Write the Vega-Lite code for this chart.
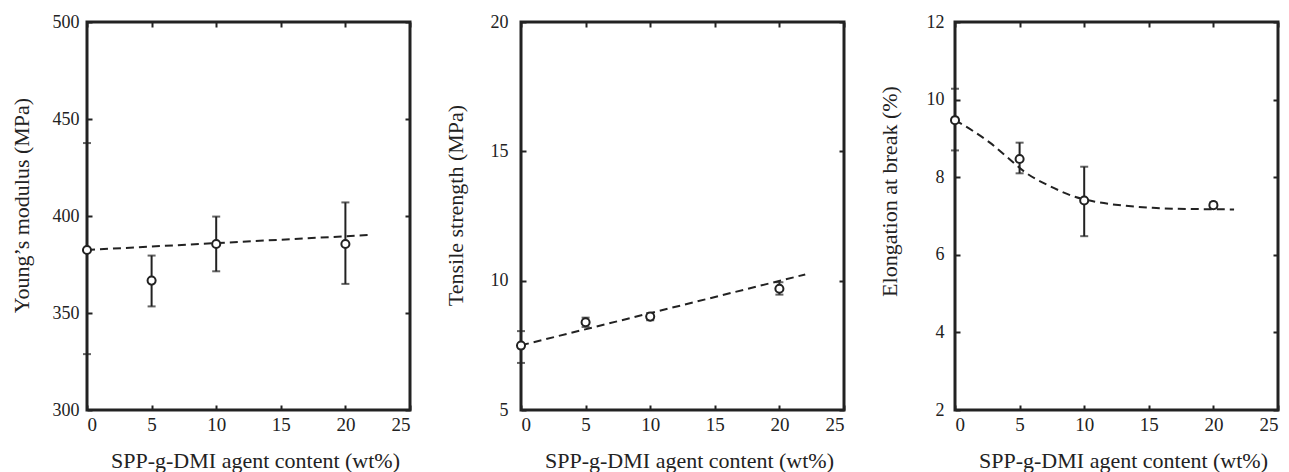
{
  "$schema": "https://vega.github.io/schema/vega-lite/v6.json",
  "padding": {"left": 8, "top": 11, "right": 0, "bottom": 0},
  "background": "white",
  "datasets": {
    "young": [
      {"x": 0, "y": 382.5, "lo": 328.8, "hi": 437.6},
      {"x": 5, "y": 366.7, "lo": 353.4, "hi": 379.6},
      {"x": 10, "y": 385.6, "lo": 371.5, "hi": 399.7},
      {"x": 20, "y": 385.6, "lo": 365.0, "hi": 407.0}
    ],
    "young_fit": [
      {"x": 0, "y": 382.5},
      {"x": 22.1, "y": 390.3}
    ],
    "tensile": [
      {"x": 0, "y": 7.49, "lo": 6.82, "hi": 8.05},
      {"x": 5, "y": 8.39, "lo": 8.21, "hi": 8.57},
      {"x": 10, "y": 8.61, "lo": 8.47, "hi": 8.75},
      {"x": 20, "y": 9.69, "lo": 9.46, "hi": 9.94}
    ],
    "tensile_fit": [
      {"x": 0, "y": 7.5},
      {"x": 22, "y": 10.24}
    ],
    "elong": [
      {"x": 0, "y": 9.47, "lo": 8.69, "hi": 10.28},
      {"x": 5, "y": 8.47, "lo": 8.1, "hi": 8.89},
      {"x": 10, "y": 7.4, "lo": 6.48, "hi": 8.27},
      {"x": 20, "y": 7.28, "lo": 7.21, "hi": 7.35}
    ],
    "elong_fit": [
      {"x": 0, "y": 9.47},
      {"x": 1.4, "y": 9.19},
      {"x": 2.7, "y": 8.89},
      {"x": 4, "y": 8.53},
      {"x": 5.5, "y": 8.11},
      {"x": 7.35, "y": 7.77},
      {"x": 9.15, "y": 7.51},
      {"x": 11, "y": 7.36},
      {"x": 13, "y": 7.27},
      {"x": 15.3, "y": 7.21},
      {"x": 18.4, "y": 7.18},
      {"x": 21.6, "y": 7.17}
    ]
  },
  "hconcat": [
    {
      "width": 323, "height": 388,
      "resolve": {"axis": {"x": "independent", "y": "independent"}},
      "layer": [
        {
          "data": {"name": "young_fit"},
          "mark": {"type": "line", "color": "#222", "strokeWidth": 2, "strokeDash": [8, 5]},
          "encoding": {
            "x": {"field": "x", "type": "quantitative", "scale": {"domain": [0, 25], "nice": false}, "axis": {"orient": "bottom", "values": [0, 5, 10, 15, 20, 25], "title": "SPP-g-DMI agent content (wt%)"}},
            "y": {"field": "y", "type": "quantitative", "scale": {"domain": [300, 500], "nice": false, "zero": false}, "axis": {"orient": "left", "values": [300, 350, 400, 450, 500], "title": "Young’s modulus (MPa)", "titleY": 183, "labelPadding": 13}}
          }
        },
        {
          "data": {"name": "young"},
          "mark": {"type": "rule", "color": "#222", "strokeWidth": 2},
          "encoding": {
            "x": {"field": "x", "type": "quantitative", "axis": null},
            "y": {"field": "lo", "type": "quantitative", "axis": null},
            "y2": {"field": "hi"}
          }
        },
        {
          "data": {"name": "young"},
          "mark": {"type": "tick", "orient": "horizontal", "color": "#222", "size": 8, "thickness": 2},
          "encoding": {
            "x": {"field": "x", "type": "quantitative", "axis": null},
            "y": {"field": "lo", "type": "quantitative", "axis": null}
          }
        },
        {
          "data": {"name": "young"},
          "mark": {"type": "tick", "orient": "horizontal", "color": "#222", "size": 8, "thickness": 2},
          "encoding": {
            "x": {"field": "x", "type": "quantitative", "axis": null},
            "y": {"field": "hi", "type": "quantitative", "axis": null}
          }
        },
        {
          "data": {"name": "young"},
          "mark": {"type": "point", "shape": "circle", "filled": true, "fill": "white", "stroke": "#222", "strokeWidth": 2, "size": 65, "opacity": 1},
          "encoding": {
            "x": {"field": "x", "type": "quantitative", "axis": {"orient": "top", "values": [0, 5, 10, 15, 20, 25], "labels": false, "title": null}},
            "y": {"field": "y", "type": "quantitative", "axis": {"orient": "right", "values": [300, 350, 400, 450, 500], "labels": false, "title": null}}
          }
        }
      ]
    },
    {
      "width": 323, "height": 388,
      "resolve": {"axis": {"x": "independent", "y": "independent"}},
      "layer": [
        {
          "data": {"name": "tensile_fit"},
          "mark": {"type": "line", "color": "#222", "strokeWidth": 2, "strokeDash": [8, 5]},
          "encoding": {
            "x": {"field": "x", "type": "quantitative", "scale": {"domain": [0, 25], "nice": false}, "axis": {"orient": "bottom", "values": [0, 5, 10, 15, 20, 25], "title": "SPP-g-DMI agent content (wt%)"}},
            "y": {"field": "y", "type": "quantitative", "scale": {"domain": [5, 20], "nice": false, "zero": false}, "axis": {"orient": "left", "values": [5, 10, 15, 20], "title": "Tensile strength  (MPa)", "titleY": 183, "labelPadding": 18}}
          }
        },
        {
          "data": {"name": "tensile"},
          "mark": {"type": "rule", "color": "#222", "strokeWidth": 2},
          "encoding": {
            "x": {"field": "x", "type": "quantitative", "axis": null},
            "y": {"field": "lo", "type": "quantitative", "axis": null},
            "y2": {"field": "hi"}
          }
        },
        {
          "data": {"name": "tensile"},
          "mark": {"type": "tick", "orient": "horizontal", "color": "#222", "size": 8, "thickness": 2},
          "encoding": {
            "x": {"field": "x", "type": "quantitative", "axis": null},
            "y": {"field": "lo", "type": "quantitative", "axis": null}
          }
        },
        {
          "data": {"name": "tensile"},
          "mark": {"type": "tick", "orient": "horizontal", "color": "#222", "size": 8, "thickness": 2},
          "encoding": {
            "x": {"field": "x", "type": "quantitative", "axis": null},
            "y": {"field": "hi", "type": "quantitative", "axis": null}
          }
        },
        {
          "data": {"name": "tensile"},
          "mark": {"type": "point", "shape": "circle", "filled": true, "fill": "white", "stroke": "#222", "strokeWidth": 2, "size": 65, "opacity": 1},
          "encoding": {
            "x": {"field": "x", "type": "quantitative", "axis": {"orient": "top", "values": [0, 5, 10, 15, 20, 25], "labels": false, "title": null}},
            "y": {"field": "y", "type": "quantitative", "axis": {"orient": "right", "values": [5, 10, 15, 20], "labels": false, "title": null}}
          }
        }
      ]
    },
    {
      "width": 323, "height": 388,
      "resolve": {"axis": {"x": "independent", "y": "independent"}},
      "layer": [
        {
          "data": {"name": "elong_fit"},
          "mark": {"type": "line", "color": "#222", "strokeWidth": 2, "strokeDash": [8, 5], "interpolate": "monotone"},
          "encoding": {
            "x": {"field": "x", "type": "quantitative", "scale": {"domain": [0, 25], "nice": false}, "axis": {"orient": "bottom", "values": [0, 5, 10, 15, 20, 25], "title": "SPP-g-DMI agent content (wt%)"}},
            "y": {"field": "y", "type": "quantitative", "scale": {"domain": [2, 12], "nice": false, "zero": false}, "axis": {"orient": "left", "values": [2, 4, 6, 8, 10, 12], "title": "Elongation at break (%)", "titleY": 169, "labelPadding": 16}}
          }
        },
        {
          "data": {"name": "elong"},
          "mark": {"type": "rule", "color": "#222", "strokeWidth": 2},
          "encoding": {
            "x": {"field": "x", "type": "quantitative", "axis": null},
            "y": {"field": "lo", "type": "quantitative", "axis": null},
            "y2": {"field": "hi"}
          }
        },
        {
          "data": {"name": "elong"},
          "mark": {"type": "tick", "orient": "horizontal", "color": "#222", "size": 8, "thickness": 2},
          "encoding": {
            "x": {"field": "x", "type": "quantitative", "axis": null},
            "y": {"field": "lo", "type": "quantitative", "axis": null}
          }
        },
        {
          "data": {"name": "elong"},
          "mark": {"type": "tick", "orient": "horizontal", "color": "#222", "size": 8, "thickness": 2},
          "encoding": {
            "x": {"field": "x", "type": "quantitative", "axis": null},
            "y": {"field": "hi", "type": "quantitative", "axis": null}
          }
        },
        {
          "data": {"name": "elong"},
          "mark": {"type": "point", "shape": "circle", "filled": true, "fill": "white", "stroke": "#222", "strokeWidth": 2, "size": 65, "opacity": 1},
          "encoding": {
            "x": {"field": "x", "type": "quantitative", "axis": {"orient": "top", "values": [0, 5, 10, 15, 20, 25], "labels": false, "title": null}},
            "y": {"field": "y", "type": "quantitative", "axis": {"orient": "right", "values": [2, 4, 6, 8, 10, 12], "labels": false, "title": null}}
          }
        }
      ]
    }
  ],
  "spacing": 111,
  "bounds": "flush",
  "config": {
    "view": {"stroke": "#222", "strokeWidth": 3},
    "font": "Liberation Serif",
    "axis": {
      "grid": false,
      "domain": false,
      "ticks": true,
      "tickColor": "#222",
      "tickWidth": 2,
      "tickSize": -5,
      "labelFont": "Liberation Serif",
      "labelFontSize": 18,
      "labelColor": "#222",
      "labelPadding": 13,
      "titleFont": "Liberation Serif",
      "titleFontSize": 22,
      "titleFontWeight": "normal",
      "titleColor": "#222",
      "titlePadding": 12
    },
    "axisLeft": {"titleX": -54, "titleBaseline": "bottom"},
    "axisBottom": {"labelPadding": 10, "labelFontSize": 19, "titleX": 168, "titleY": 57, "titleBaseline": "alphabetic"},
    "axisTop": {"labelPadding": 0},
    "axisRight": {"labelPadding": 0}
  }
}
